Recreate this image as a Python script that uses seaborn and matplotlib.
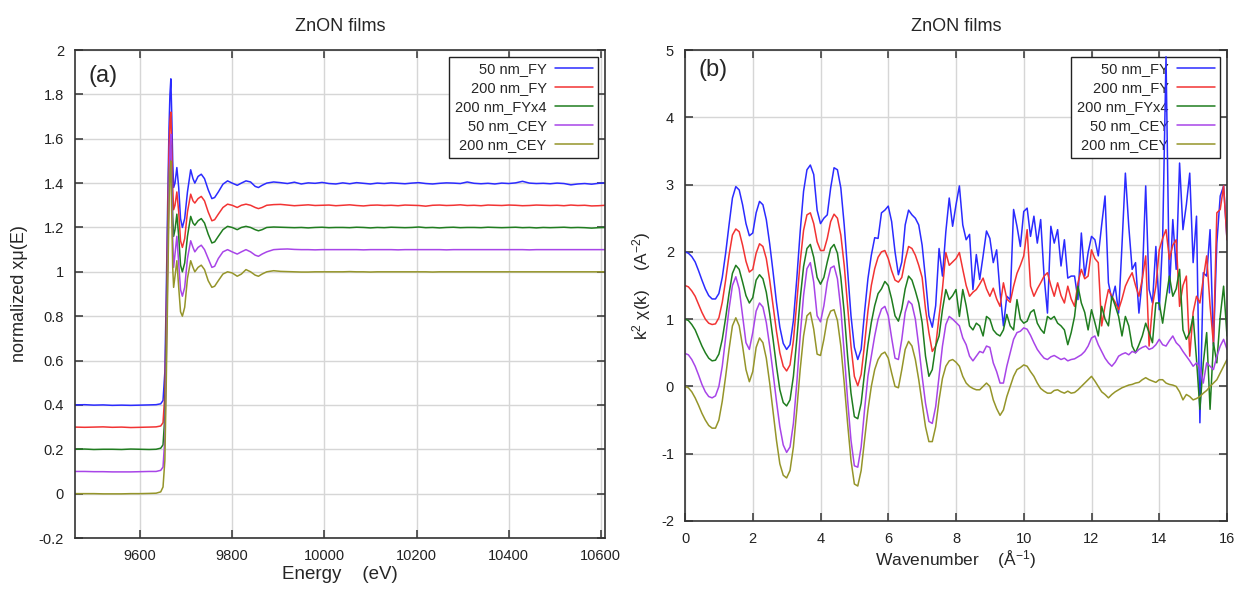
import numpy as np
import pandas as pd
import matplotlib
matplotlib.use("Agg")
import matplotlib.pyplot as plt
import seaborn as sns
from matplotlib.ticker import FuncFormatter

# ----- (a) normalized XANES, Zn K-edge -----
energy_edge = [9460, 9480, 9500, 9520, 9540, 9560, 9580, 9600, 9620, 9635,
               9645, 9650, 9654, 9657, 9660, 9663, 9665, 9667, 9669, 9671,
               9673, 9676, 9680, 9684, 9688, 9692, 9697, 9703, 9710, 9715,
               9719, 9726, 9733, 9740, 9748, 9756, 9762, 9770, 9780, 9790,
               9800, 9811, 9820, 9830, 9840, 9850, 9857, 9865, 9875, 9890]
energy_tail = list(range(9905, 10611, 15))
energy = energy_edge + energy_tail

mu_50_fy = [0.400, 0.401, 0.399, 0.400, 0.398, 0.399, 0.398, 0.399, 0.400, 0.401,
            0.405, 0.42, 0.55, 0.90, 1.30, 1.65, 1.80, 1.87, 1.70, 1.50,
            1.38, 1.40, 1.47, 1.38, 1.24, 1.20, 1.24, 1.36, 1.46, 1.42,
            1.40, 1.43, 1.44, 1.42, 1.37, 1.33, 1.335, 1.36, 1.395, 1.41,
            1.40, 1.39, 1.40, 1.41, 1.405, 1.385, 1.38, 1.39, 1.40, 1.405,
            1.402, 1.398, 1.404, 1.396, 1.401, 1.399, 1.403, 1.398, 1.396, 1.401,
            1.397, 1.402, 1.399, 1.396, 1.400, 1.398, 1.401, 1.399, 1.397, 1.400,
            1.402, 1.398, 1.396, 1.399, 1.401, 1.400, 1.398, 1.405, 1.399, 1.397,
            1.399, 1.396, 1.400, 1.398, 1.401, 1.408, 1.400, 1.398, 1.399, 1.397,
            1.400, 1.398, 1.392, 1.396, 1.398, 1.395, 1.399, 1.401]
mu_200_fy = [0.300, 0.299, 0.300, 0.301, 0.299, 0.300, 0.298, 0.299, 0.300, 0.301,
             0.305, 0.32, 0.45, 0.80, 1.20, 1.55, 1.68, 1.72, 1.55, 1.38,
             1.28, 1.30, 1.36, 1.27, 1.14, 1.11, 1.15, 1.27, 1.35, 1.32,
             1.31, 1.33, 1.34, 1.32, 1.27, 1.23, 1.235, 1.26, 1.29, 1.305,
             1.30, 1.29, 1.30, 1.305, 1.30, 1.29, 1.285, 1.29, 1.30, 1.303,
             1.304, 1.301, 1.298, 1.300, 1.302, 1.299, 1.300, 1.301, 1.298, 1.300,
             1.302, 1.299, 1.297, 1.300, 1.301, 1.299, 1.300, 1.298, 1.301, 1.300,
             1.299, 1.296, 1.300, 1.301, 1.299, 1.300, 1.302, 1.299, 1.300, 1.298,
             1.301, 1.300, 1.299, 1.301, 1.300, 1.298, 1.299, 1.301, 1.300, 1.299,
             1.300, 1.298, 1.301, 1.299, 1.300, 1.297, 1.298, 1.300]
mu_200_fyx4 = [0.200, 0.201, 0.199, 0.200, 0.200, 0.199, 0.201, 0.200, 0.199, 0.200,
               0.205, 0.22, 0.35, 0.70, 1.08, 1.40, 1.53, 1.57, 1.42, 1.25,
               1.16, 1.19, 1.26, 1.16, 1.03, 1.00, 1.04, 1.16, 1.25, 1.22,
               1.21, 1.23, 1.24, 1.22, 1.17, 1.13, 1.135, 1.16, 1.19, 1.205,
               1.20, 1.19, 1.20, 1.205, 1.20, 1.19, 1.185, 1.19, 1.20, 1.202,
               1.201, 1.200, 1.199, 1.200, 1.198, 1.200, 1.201, 1.199, 1.200, 1.200,
               1.199, 1.201, 1.200, 1.198, 1.200, 1.199, 1.201, 1.200, 1.199, 1.200,
               1.202, 1.199, 1.200, 1.198, 1.200, 1.201, 1.199, 1.200, 1.200, 1.199,
               1.201, 1.200, 1.199, 1.200, 1.201, 1.199, 1.200, 1.198, 1.200, 1.199,
               1.200, 1.201, 1.199, 1.200, 1.199, 1.197, 1.199, 1.200]
mu_50_cey = [0.100, 0.100, 0.099, 0.099, 0.098, 0.098, 0.098, 0.099, 0.100, 0.100,
             0.105, 0.12, 0.25, 0.60, 1.00, 1.38, 1.55, 1.62, 1.40, 1.15,
             1.02, 1.08, 1.16, 1.04, 0.92, 0.89, 0.93, 1.06, 1.14, 1.11,
             1.09, 1.11, 1.12, 1.10, 1.06, 1.02, 1.025, 1.06, 1.09, 1.10,
             1.09, 1.08, 1.09, 1.10, 1.09, 1.075, 1.07, 1.08, 1.09, 1.10,
             1.102, 1.103, 1.101, 1.100, 1.100, 1.099, 1.100, 1.100, 1.100, 1.100,
             1.100, 1.100, 1.099, 1.100, 1.100, 1.100, 1.100, 1.099, 1.100, 1.100,
             1.100, 1.100, 1.100, 1.100, 1.099, 1.100, 1.100, 1.100, 1.100, 1.100,
             1.100, 1.100, 1.100, 1.100, 1.100, 1.100, 1.099, 1.100, 1.100, 1.100,
             1.100, 1.100, 1.100, 1.100, 1.100, 1.100, 1.100, 1.100]
mu_200_cey = [0.000, 0.000, 0.000, -0.001, -0.001, -0.001, 0.000, 0.000, 0.001, 0.002,
              0.008, 0.03, 0.15, 0.50, 0.90, 1.30, 1.45, 1.50, 1.25, 1.02,
              0.93, 0.98, 1.05, 0.93, 0.82, 0.80, 0.84, 0.97, 1.05, 1.02,
              1.00, 1.02, 1.03, 1.01, 0.96, 0.93, 0.935, 0.96, 0.99, 1.00,
              0.995, 0.98, 0.99, 1.01, 1.00, 0.985, 0.98, 0.99, 1.00, 1.005,
              1.002, 1.001, 1.000, 0.999, 0.999, 1.000, 1.000, 1.000, 1.000, 1.000,
              1.001, 1.000, 1.000, 0.999, 1.000, 1.000, 1.000, 1.000, 1.000, 1.000,
              1.000, 1.000, 0.999, 1.000, 1.000, 1.000, 1.000, 1.000, 1.000, 1.000,
              1.000, 1.000, 1.000, 1.000, 1.000, 1.000, 1.000, 1.000, 1.000, 1.000,
              1.000, 1.000, 1.000, 1.000, 1.000, 1.000, 1.000, 1.000]

# ----- (b) k^2 weighted EXAFS, sampled every 0.1 A^-1 -----
k = np.round(np.arange(0, 16.01, 0.1), 1)

chi_50_fy = [2.00, 1.98, 1.93, 1.85, 1.72, 1.58, 1.45, 1.35, 1.30, 1.30,
             1.38, 1.62, 1.98, 2.40, 2.80, 2.97, 2.92, 2.70, 2.42, 2.24,
             2.28, 2.58, 2.75, 2.70, 2.48, 2.12, 1.70, 1.25, 0.88, 0.64,
             0.55, 0.62, 0.98, 1.60, 2.30, 2.90, 3.22, 3.29, 3.15, 2.62,
             2.42, 2.50, 2.55, 2.95, 3.25, 3.22, 2.95, 2.40, 1.72, 1.05,
             0.58, 0.40, 0.55, 1.10, 1.60, 1.95, 2.21, 2.20, 2.58, 2.62,
             2.68, 2.45, 2.00, 1.66, 1.85, 2.40, 2.62, 2.55, 2.50, 2.40,
             2.10, 1.60, 1.05, 0.88, 1.20, 2.05, 1.64, 2.30, 2.80, 2.38,
             2.70, 2.98, 2.40, 2.18, 2.26, 1.44, 1.96, 1.59, 1.94, 2.31,
             2.20, 1.84, 2.03, 1.40, 0.90, 1.34, 1.29, 2.63, 2.38, 2.08,
             2.60, 2.65, 2.23, 2.53, 2.13, 2.48, 1.64, 1.09, 2.38, 2.13,
             2.33, 1.79, 2.18, 1.61, 1.64, 1.64, 1.29, 2.28, 1.64, 1.99,
             2.23, 2.18, 1.94, 2.40, 2.83, 1.54, 1.29, 1.49, 1.09, 2.10,
             3.17, 2.38, 1.74, 1.84, 1.09, 1.60, 2.98, 1.44, 1.24, 2.08,
             1.14, 2.18, 4.90, 1.39, 2.48, 1.74, 3.32, 2.33, 2.70, 3.17,
             1.84, 2.53, -0.54, 1.69, 1.64, 2.33, 0.60, 2.13, 2.83, 2.98,
             2.18]
chi_200_fy = [1.50, 1.48, 1.42, 1.34, 1.22, 1.10, 1.00, 0.94, 0.92, 0.93,
              1.02, 1.25, 1.58, 1.95, 2.25, 2.34, 2.30, 2.10, 1.86, 1.70,
              1.74, 1.98, 2.12, 2.08, 1.90, 1.58, 1.20, 0.82, 0.50, 0.30,
              0.23, 0.32, 0.68, 1.25, 1.85, 2.32, 2.55, 2.58, 2.42, 2.15,
              2.02, 2.02, 2.20, 2.45, 2.56, 2.50, 2.25, 1.80, 1.20, 0.60,
              0.15, 0.01, 0.18, 0.62, 1.12, 1.50, 1.75, 1.92, 2.00, 2.02,
              1.90, 1.72, 1.58, 1.55, 1.62, 1.88, 2.08, 2.05, 1.95, 1.80,
              1.62, 1.15, 0.80, 0.52, 0.60, 1.04, 1.45, 1.99, 1.80, 1.85,
              1.90, 1.99, 1.74, 1.50, 1.34, 1.40, 1.44, 1.52, 1.61, 1.45,
              1.34, 1.46, 1.30, 1.19, 1.54, 1.30, 1.25, 1.49, 1.68, 1.80,
              1.94, 2.33, 1.49, 1.34, 1.45, 1.54, 1.64, 1.69, 1.50, 1.34,
              1.54, 1.35, 1.24, 1.49, 1.30, 1.19, 1.54, 1.74, 1.60, 1.64,
              2.03, 1.90, 1.84, 0.90, 1.20, 1.44, 1.34, 1.25, 1.14, 1.30,
              1.49, 1.60, 1.69, 1.50, 1.34, 1.60, 1.94, 0.60, 1.20, 1.49,
              2.03, 2.20, 2.33, 1.89, 2.10, 2.18, 1.19, 1.50, 1.64, 0.45,
              1.10, 1.34, 1.24, 1.60, 1.94, 1.20, 0.63, 2.58, 2.63, 2.98,
              2.18]
chi_200_fyx4 = [1.00, 0.98, 0.92, 0.84, 0.72, 0.60, 0.50, 0.42, 0.38, 0.39,
                0.48, 0.70, 1.02, 1.38, 1.68, 1.80, 1.74, 1.55, 1.35, 1.24,
                1.32, 1.58, 1.66, 1.60, 1.40, 1.08, 0.70, 0.30, -0.05, -0.24,
                -0.29, -0.20, 0.15, 0.70, 1.30, 1.78, 2.05, 2.11, 1.92, 1.62,
                1.52, 1.62, 1.85, 2.05, 2.11, 1.98, 1.62, 1.10, 0.45, -0.10,
                -0.45, -0.48, -0.25, 0.20, 0.62, 0.95, 1.20, 1.38, 1.45, 1.56,
                1.50, 1.30, 1.05, 0.97, 1.15, 1.45, 1.64, 1.58, 1.42, 1.24,
                0.95, 0.45, 0.15, 0.25, 0.60, 0.75, 1.14, 1.44, 1.29, 1.35,
                1.44, 1.04, 1.44, 1.20, 0.90, 0.84, 0.94, 0.90, 0.75, 1.04,
                1.00, 0.84, 0.78, 0.75, 0.84, 1.07, 0.90, 0.84, 1.29, 1.00,
                0.94, 0.97, 1.10, 1.14, 0.94, 0.85, 0.79, 1.04, 1.00, 1.04,
                0.94, 0.90, 0.84, 0.62, 0.80, 1.04, 1.49, 1.24, 1.10, 0.84,
                1.14, 0.95, 0.75, 1.19, 1.00, 0.90, 1.34, 1.20, 1.04, 0.75,
                1.04, 0.90, 0.60, 0.50, 0.62, 0.75, 0.94, 0.80, 0.65, 1.24,
                1.24, 0.94, 1.30, 1.64, 1.34, 1.45, 1.74, 0.84, 0.70, 0.80,
                1.04, 0.40, -0.34, 0.35, 0.80, -0.34, 0.65, 0.35, 1.04, 1.49,
                0.75]
chi_50_cey = [0.49, 0.47, 0.40, 0.30, 0.17, 0.03, -0.08, -0.15, -0.17, -0.14,
              0.00, 0.30, 0.72, 1.15, 1.50, 1.63, 1.45, 1.05, 0.65, 0.55,
              0.80, 1.12, 1.24, 1.18, 0.95, 0.60, 0.20, -0.22, -0.60, -0.87,
              -0.98, -0.90, -0.55, 0.05, 0.75, 1.35, 1.75, 1.84, 1.55, 1.05,
              0.96, 1.20, 1.55, 1.76, 1.79, 1.60, 1.15, 0.50, -0.20, -0.80,
              -1.18, -1.20, -0.90, -0.35, 0.15, 0.45, 0.75, 1.00, 1.15, 1.19,
              1.05, 0.72, 0.42, 0.40, 0.70, 1.10, 1.27, 1.22, 1.00, 0.60,
              0.15, -0.25, -0.52, -0.55, -0.30, 0.15, 0.60, 0.92, 1.04, 1.00,
              0.95, 0.90, 0.72, 0.62, 0.45, 0.38, 0.45, 0.52, 0.50, 0.60,
              0.58, 0.35, 0.22, 0.05, 0.05, 0.30, 0.50, 0.70, 0.80, 0.82,
              0.87, 0.85, 0.76, 0.65, 0.55, 0.48, 0.42, 0.40, 0.44, 0.46,
              0.43, 0.40, 0.42, 0.38, 0.40, 0.41, 0.44, 0.47, 0.52, 0.60,
              0.72, 0.75, 0.62, 0.52, 0.42, 0.35, 0.30, 0.36, 0.45, 0.48,
              0.50, 0.47, 0.52, 0.50, 0.55, 0.58, 0.60, 0.55, 0.57, 0.62,
              0.70, 0.62, 0.60, 0.68, 0.75, 0.65, 0.60, 0.52, 0.45, 0.38,
              0.30, 0.35, 0.28, 0.05, 0.35, 0.30, 0.25, 0.45, 0.60, 0.70,
              0.55]
chi_200_cey = [0.00, -0.02, -0.08, -0.17, -0.28, -0.40, -0.50, -0.58, -0.62, -0.62,
               -0.50, -0.22, 0.15, 0.55, 0.90, 1.02, 0.90, 0.60, 0.25, 0.07,
               0.22, 0.58, 0.72, 0.65, 0.42, 0.05, -0.38, -0.80, -1.15, -1.32,
               -1.36, -1.25, -0.90, -0.35, 0.25, 0.75, 1.05, 1.10, 0.85, 0.48,
               0.46, 0.70, 1.00, 1.12, 1.14, 0.98, 0.60, 0.05, -0.55, -1.10,
               -1.45, -1.48, -1.25, -0.80, -0.35, 0.00, 0.25, 0.40, 0.48, 0.51,
               0.42, 0.20, 0.00, -0.02, 0.25, 0.55, 0.67, 0.60, 0.40, 0.10,
               -0.25, -0.60, -0.82, -0.82, -0.60, -0.20, 0.12, 0.30, 0.38, 0.40,
               0.36, 0.30, 0.15, 0.05, 0.00, -0.03, -0.05, -0.05, 0.00, 0.05,
               0.00, -0.20, -0.33, -0.43, -0.35, -0.15, 0.00, 0.15, 0.25, 0.28,
               0.32, 0.30, 0.22, 0.15, 0.05, -0.03, -0.07, -0.10, -0.10, -0.06,
               -0.05, -0.08, -0.10, -0.07, -0.10, -0.09, -0.05, 0.00, 0.05, 0.10,
               0.15, 0.08, 0.00, -0.08, -0.12, -0.17, -0.12, -0.08, -0.05, -0.02,
               0.00, 0.02, 0.03, 0.05, 0.06, 0.10, 0.13, 0.10, 0.08, 0.06,
               0.10, 0.10, 0.05, 0.03, 0.02, 0.00, -0.08, -0.20, -0.12, -0.15,
               -0.20, -0.18, -0.15, -0.10, -0.06, 0.00, 0.05, 0.10, 0.20, 0.30,
               0.40]

labels = ["50 nm_FY", "200 nm_FY", "200 nm_FYx4", "50 nm_CEY", "200 nm_CEY"]
colors = ["#2b2bff", "#f23333", "#1f7d1f", "#a845e8", "#95952a"]
mu_series = [mu_50_fy, mu_200_fy, mu_200_fyx4, mu_50_cey, mu_200_cey]
chi_series = [chi_50_fy, chi_200_fy, chi_200_fyx4, chi_50_cey, chi_200_cey]

for s in mu_series:
    assert len(s) == len(energy), len(s)
for s in chi_series:
    assert len(s) == len(k), len(s)

sns.set_theme(style="whitegrid")
plt.rcParams["font.family"] = ["Liberation Sans", "DejaVu Sans"]
plt.rcParams["mathtext.default"] = "regular"

W, H = 1245, 589
fig = plt.figure(figsize=(W / 100, H / 100), dpi=100)
ax1 = fig.add_axes([75 / W, 1 - 538 / H, 530 / W, 488 / H])
ax2 = fig.add_axes([685 / W, 1 - 521 / H, 542 / W, 471 / H])

fmt = FuncFormatter(lambda v, p: f"{round(v, 6) + 0.0:g}")


def style_axes(ax):
    ax.set_facecolor("white")
    ax.grid(True, color="#d6d6d6", linewidth=1.0)
    for sp in ax.spines.values():
        sp.set_visible(True)
        sp.set_color("#333333")
        sp.set_linewidth(1.2)
    ax.tick_params(direction="in", length=6, width=1.1, color="#333333",
                   bottom=True, left=True, top=True, right=True,
                   labelsize=10.5, pad=8, labelcolor="#222222")
    ax.xaxis.set_major_formatter(fmt)
    ax.yaxis.set_major_formatter(fmt)


def add_legend(ax):
    leg = ax.legend(loc="upper right", markerfirst=False, frameon=True, fancybox=False,
                    edgecolor="#222222", framealpha=1, fontsize=10.5, handlelength=2.6,
                    handletextpad=0.55, labelspacing=0.34, borderpad=0.4,
                    borderaxespad=0.45)
    leg.get_frame().set_linewidth(1.0)
    leg.set_zorder(1)
    return leg


# panel (a)
for lab, col, vals in zip(labels, colors, mu_series):
    sns.lineplot(x=energy, y=vals, color=col, linewidth=1.1, label=lab, ax=ax1, errorbar=None)
style_axes(ax1)
ax1.set_xlim(9459, 10609)
ax1.set_ylim(-0.2, 2.0)
ax1.set_xticks([9600, 9800, 10000, 10200, 10400, 10600])
ax1.set_yticks(np.round(np.arange(-0.2, 2.01, 0.2), 1))
ax1.set_title("ZnON films", fontsize=13, pad=14)
ax1.set_xlabel("Energy    (eV)", fontsize=13.5, labelpad=2)
ax1.set_ylabel("normalized xμ(E)", fontsize=13, labelpad=8)
ax1.text(0.025, 0.947, "(a)", transform=ax1.transAxes, fontsize=17, va="center", ha="left")
add_legend(ax1)

# panel (b)
for lab, col, vals in zip(labels, colors, chi_series):
    sns.lineplot(x=k, y=vals, color=col, linewidth=1.1, label=lab, ax=ax2, errorbar=None)
style_axes(ax2)
ax2.set_xlim(0, 16)
ax2.set_ylim(-2, 5)
ax2.set_xticks(range(0, 17, 2))
ax2.set_yticks(range(-2, 6))
ax2.set_title("ZnON films", fontsize=13, pad=14)
ax2.set_xlabel("Wavenumber    (Å$^{-1}$)", fontsize=12.5, labelpad=2)
ax2.set_ylabel("k$^2$ χ(k)    (A$^{-2}$)", fontsize=12.5, labelpad=6)
ax2.text(0.025, 0.957, "(b)", transform=ax2.transAxes, fontsize=17, va="center", ha="left")
add_legend(ax2)

fig.savefig("out.png", dpi=100, facecolor="white")
